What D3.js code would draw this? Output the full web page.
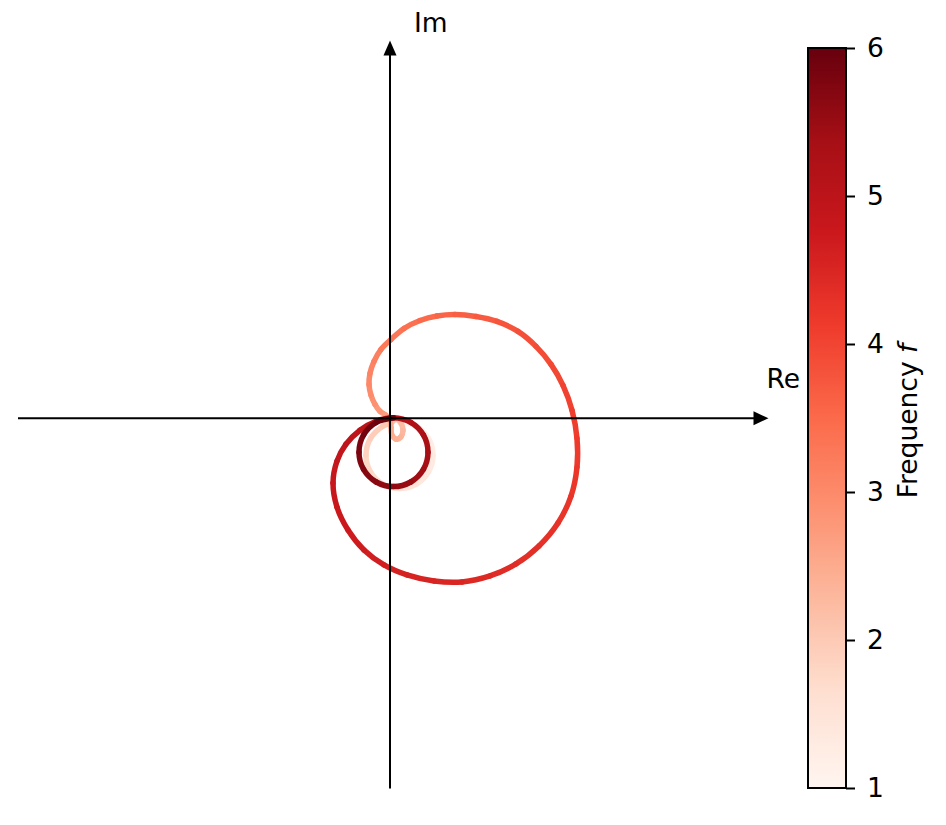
<!DOCTYPE html>
<html><head><meta charset="utf-8">
<script src="https://cdn.jsdelivr.net/npm/d3@7"></script>
<style>body{margin:0;background:#fff} svg{display:block} text{font-family:"DejaVu Sans",sans-serif;fill:#000}</style>
</head><body><svg id="c" width="946" height="825"></svg>
<script>
// Frequency along the curve
const freq = [
  1.00,1.09,1.18,1.27,1.36,1.45,1.54,1.63,1.72,1.81,1.90,1.99,2.07,
  2.14,2.20,2.26,2.32,2.38,2.44,2.50,2.56,
  2.65,2.75,2.85,2.93,3.00,3.07,3.14,3.21,3.28,3.36,3.44,3.52,3.60,3.68,3.75,3.82,3.88,3.94,4.00,4.06,4.12,
  4.17,4.22,4.27,4.32,4.37,4.42,4.47,4.52,4.57,4.62,4.67,4.72,4.77,4.82,4.88,4.94,5.00,5.05,5.10,
  5.175,5.25,5.325,5.40,5.475,5.55,5.625,5.70,5.775,5.85,5.925,6.00
];
// Real parts
const reVals = [
  0.256,0.708,1.038,1.159,1.038,0.708,0.256,-0.195,-0.526,-0.647,-0.526,-0.195,0.027,
  0.162,0.296,0.350,0.296,0.175,0.054,0.027,0.000,
  -0.108,-0.270,-0.404,-0.512,-0.566,-0.539,-0.431,-0.243,0.027,0.377,0.809,1.267,1.752,2.318,2.884,3.450,3.935,4.340,4.663,4.906,5.040,
  5.040,4.879,4.528,4.016,3.396,2.695,1.941,1.186,0.458,-0.162,-0.701,-1.132,-1.429,-1.536,-1.429,-1.186,-0.809,-0.377,0.094,
  0.559,0.900,1.024,0.900,0.559,0.094,-0.371,-0.712,-0.836,-0.712,-0.371,0.094
];
// Imaginary parts
const imVals = [
  -0.094,-0.216,-0.546,-0.997,-1.449,-1.779,-1.900,-1.779,-1.449,-0.997,-0.546,-0.216,-0.124,
  -0.027,-0.135,-0.323,-0.499,-0.566,-0.458,-0.243,-0.054,
  0.081,0.189,0.377,0.620,0.916,1.213,1.536,1.860,2.129,2.426,2.641,2.763,2.803,2.749,2.615,2.345,1.941,1.456,0.889,0.216,-0.539,
  -1.321,-2.102,-2.830,-3.450,-3.935,-4.259,-4.420,-4.394,-4.232,-3.962,-3.558,-3.019,-2.399,-1.752,-1.159,-0.701,-0.323,-0.081,0.013,
  -0.111,-0.451,-0.916,-1.381,-1.722,-1.846,-1.722,-1.381,-0.916,-0.451,-0.111,0.013
];
const cbTicks = [1,2,3,4,5,6];
const fRange = [1,6];
const axisLimits = [-10,10];
const redsStops = ["#fff5f0","#fee0d2","#fcbba1","#fc9272","#fb6a4a","#ef3b2c","#cb181d","#a50f15","#67000d"];
const reLabel = "Re", imLabel = "Im";
const cbLabelText = "Frequency ", cbLabelVar = "f";

const svg = d3.select("#c");
const FS = 26.5;
const x = d3.scaleLinear().domain(axisLimits).range([19, 761]);
const y = d3.scaleLinear().domain(axisLimits).range([788.5, 48]);
const norm = d3.scaleLinear().domain(fRange).range([0, 1]);
const reds = d3.scaleLinear().domain(redsStops.map((_, i) => i / (redsStops.length - 1))).range(redsStops).interpolate(d3.interpolateRgb);
const color = f => reds(norm(f));

// curve, colored per segment
const pts = freq.map((f, i) => [x(reVals[i]), y(imVals[i])]);
const dStr = d3.line().curve(d3.curveCatmullRom.alpha(0.5))(pts);
const parts = dStr.split("C").slice(1);
const gc = svg.append("g");
parts.forEach((p, i) => {
  gc.append("path")
    .attr("d", `M${pts[i][0]},${pts[i][1]}C${p}`)
    .attr("fill", "none")
    .attr("stroke", color((freq[i] + freq[i + 1]) / 2))
    .attr("stroke-width", 5.5)
    .attr("stroke-linecap", "round");
});

// axes through origin with arrows
const x0 = x(0), y0 = y(0);
svg.append("line").attr("x1", x(axisLimits[0]) - 1).attr("x2", x(axisLimits[1])).attr("y1", y0).attr("y2", y0)
  .attr("stroke", "#000").attr("stroke-width", 2);
svg.append("line").attr("x1", x0).attr("x2", x0).attr("y1", y(axisLimits[0])).attr("y2", y(axisLimits[1]))
  .attr("stroke", "#000").attr("stroke-width", 2);
const ax = x(axisLimits[1]), ay = y(axisLimits[1]);
svg.append("path").attr("d", `M${ax + 7.5},${y0}L${ax - 7.5},${y0 - 7}L${ax - 7.5},${y0 + 7}Z`).attr("fill", "#000");
svg.append("path").attr("d", `M${x0},${ay - 7.5}L${x0 - 6.5},${ay + 7.5}L${x0 + 6.5},${ay + 7.5}Z`).attr("fill", "#000");
svg.append("text").attr("x", 766.5).attr("y", 388).attr("font-size", FS).text(reLabel);
svg.append("text").attr("x", 414).attr("y", 31.5).attr("font-size", FS).text(imLabel);

// colorbar
const cbX = 808, cbW = 38;
const cy = d3.scaleLinear().domain(fRange).range([788, 48]);
const grad = svg.append("defs").append("linearGradient").attr("id", "cbg")
  .attr("x1", 0).attr("y1", 1).attr("x2", 0).attr("y2", 0);
d3.range(0, 1.0001, 0.025).forEach(t => {
  grad.append("stop").attr("offset", t).attr("stop-color", reds(t));
});
svg.append("rect").attr("x", cbX).attr("y", cy(fRange[1])).attr("width", cbW).attr("height", cy(fRange[0]) - cy(fRange[1]))
  .attr("fill", "url(#cbg)").attr("stroke", "#000").attr("stroke-width", 2);
const cbAxis = d3.axisRight(cy).tickValues(cbTicks).tickFormat(d3.format("d")).tickSize(9).tickPadding(12);
const ga = svg.append("g").attr("transform", `translate(${cbX + cbW},0)`).call(cbAxis);
ga.select(".domain").remove();
ga.selectAll(".tick line").attr("stroke", "#000").attr("stroke-width", 2);
ga.selectAll(".tick text").attr("font-size", FS).attr("font-family", "DejaVu Sans").attr("fill", "#000");
const lbl = svg.append("text").attr("transform", `translate(917,421) rotate(-90)`).attr("text-anchor", "middle").attr("font-size", FS);
lbl.append("tspan").text(cbLabelText);
lbl.append("tspan").attr("font-style", "italic").text(cbLabelVar);
</script></body></html>
